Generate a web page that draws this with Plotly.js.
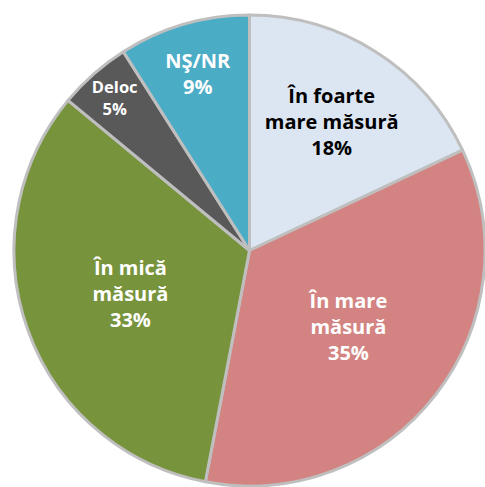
<!DOCTYPE html>
<html><head><meta charset="utf-8">
<script src="https://cdn.plot.ly/plotly-3.0.1.min.js"></script>
<style>html,body{margin:0;padding:0;background:#fff}</style>
</head><body>
<div id="chart" style="width:485px;height:487px"></div>
<script>
const categories = ["În foarte mare măsură", "În mare măsură", "În mică măsură", "Deloc", "NŞ/NR"];
const values = [18, 35, 33, 5, 9];
const labelLines = ["În foarte<br>mare măsură", "În mare<br>măsură", "În mică<br>măsură", "Deloc", "NŞ/NR"];
const colors = ["#dce6f2", "#d38482", "#77933c", "#595959", "#4bacc6"];
const textColors = ["#000000", "#ffffff", "#ffffff", "#ffffff", "#ffffff"];
const textSizes = [20, 20, 20, 17, 20];

const texts = labelLines.map((l, i) => l + "<br>" + values[i] + "%");

Plotly.newPlot("chart", [{
  type: "pie",
  labels: categories,
  values: values,
  text: texts,
  textinfo: "text",
  textposition: "inside",
  insidetextorientation: "horizontal",
  sort: false,
  direction: "clockwise",
  rotation: 0,
  marker: {colors: colors, line: {color: "#bfbfbf", width: 3}},
  textfont: {family: "Open Sans, sans-serif", size: textSizes, color: textColors, weight: "bold"},
  hoverinfo: "none",
  showlegend: false
}], {
  width: 485, height: 487,
  margin: {l: 14, r: 0, t: 14, b: 0},
  paper_bgcolor: "#ffffff",
  showlegend: false
}, {displayModeBar: false, staticPlot: true});
</script>
</body></html>
